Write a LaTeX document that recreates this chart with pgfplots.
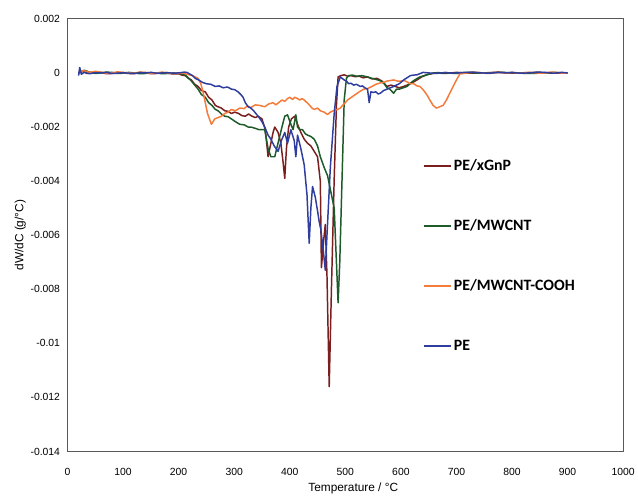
\documentclass[border=0pt]{standalone}
\usepackage{pgfplots}
\pgfplotsset{compat=1.18}
\usepackage{fontspec}
\setmainfont{Liberation Sans}
\newfontfamily\legfont{Carlito}
\definecolor{cRed}{HTML}{7A1E1E}
\definecolor{cGreen}{HTML}{1D5B2A}
\definecolor{cOrange}{HTML}{F57B3A}
\definecolor{cBlue}{HTML}{2F3E9E}
\definecolor{frame}{HTML}{595959}
\begin{document}
\begin{tikzpicture}
\begin{axis}[
  name=ax,
  scale only axis, width=560bp, height=436bp,
  xmin=0, xmax=1000, ymin=-0.014, ymax=0.002,
  axis line style={frame, line width=1.1pt},
  major tick length=0pt,
  xtick={0,100,...,1000},
  xticklabels={0,100,200,300,400,500,600,700,800,900,1000},
  ytick={-0.014,-0.012,-0.01,-0.008,-0.006,-0.004,-0.002,0,0.002},
  yticklabels={-0.014,-0.012,-0.01,-0.008,-0.006,-0.004,-0.002,0,0.002},
  ticklabel style={font=\fontsize{10.5}{12}\selectfont},
  xticklabel style={yshift=-13bp},
  yticklabel style={xshift=-4bp},
  scaled y ticks=false,
  xlabel={Temperature / °C},
  ylabel={dW/dC (g/°C)},
  label style={font=\fontsize{12}{14}\selectfont},
  xlabel style={yshift=-1bp, xshift=8bp},
  ylabel style={yshift=-2bp},
  legend style={at={(0.64,0.68)}, anchor=north west, draw=none, fill=none,
    font=\legfont\bfseries\fontsize{16}{19}\selectfont, row sep=44bp,
    inner sep=0pt, cells={anchor=west}},
  legend image code/.code={\draw[#1, line width=1.8pt] (0bp,0bp) -- (27bp,0bp);},
  every axis plot/.append style={line width=1.5pt, line join=round},
]
\addplot[cRed] coordinates {
(20,0.0) (25,0.00004) (30,0.00005) (35,-0.00002) (40,0.0) (50,0.00003) (60,0.00002) (70,-0.00003) (80,-0.00002) (90,0.00002) (100,0.0) (110,-0.00002) (120,-0.00003)
(130,0.00002) (140,0.00001) (150,-0.00003) (160,-0.00002) (170,0.00001) (180,-0.00001) (190,-0.00004) (200,-0.00003) (206,-0.00008) (212,-0.0001) (218,-0.0002) (223,-0.00026)
(229,-0.00042) (235,-0.0005) (241,-0.00065) (248,-0.0007) (254,-0.0009) (260,-0.001) (266,-0.0012) (271,-0.00125) (277,-0.0013) (283,-0.0014) (289,-0.00142) (295,-0.0015)
(301,-0.00145) (308,-0.0015) (314,-0.00158) (320,-0.0016) (326,-0.00152) (332,-0.0016) (338,-0.00165) (343,-0.0016) (350,-0.0017) (356,-0.0021)
(361,-0.0031) (366,-0.0026) (370,-0.0022) (373,-0.002) (379,-0.0022) (384,-0.0026) (388,-0.0033)
(391,-0.0039) (394,-0.0028) (398,-0.002) (403,-0.0017) (409,-0.0016) (414,-0.0019)
(420,-0.0022) (426,-0.00245) (432,-0.0026) (438,-0.0027) (444,-0.0029) (450,-0.0031)
(455,-0.004) (457,-0.0072) (461,-0.0062) (464,-0.0056) (467,-0.0075) (471,-0.0116)
(475,-0.008) (480,-0.0039) (484,-0.0012) (487,-0.00015) (492,-0.0001) (498,-0.00007)
(504,-0.00012) (510,-0.0001) (518,-0.00014) (525,-0.00012) (532,-0.00018) (540,-0.00015) (548,-0.00022) (557,-0.0002) (566,-0.0003) (575,-0.0005)
(582,-0.00045) (590,-0.0005) (597,-0.00055) (605,-0.0005) (611,-0.00045) (617,-0.0004) (623,-0.00033) (629,-0.00026) (637,-0.00015) (646,-0.00007) (660,0.0)
(680,-0.00002) (700,0.00002) (725,-0.00001) (750,0.0) (775,0.00003) (800,-0.00001) (825,0.00001) (850,0.00002) (875,-0.00001) (900,0.0)
};
\addlegendentry{PE/xGnP}
\addplot[cGreen] coordinates {
(20,0.0) (30,0.0001) (40,0.00003) (50,-0.00002) (60,0.0) (70,0.00003) (80,0.00002) (90,-0.00002) (100,-0.00001) (110,0.00002) (120,0.0)
(130,-0.00003) (140,-0.00002) (150,0.00001) (160,0.0) (170,-0.00003) (180,-0.00002) (190,0.0) (200,-0.00001) (212,-0.00008) (223,-0.0003)
(229,-0.00045) (235,-0.0006) (241,-0.0008) (248,-0.0009) (254,-0.0011) (260,-0.0012) (266,-0.00135) (271,-0.0014) (277,-0.00152) (283,-0.0016) (289,-0.00162) (295,-0.0017)
(302,-0.0018) (310,-0.0019) (318,-0.00192) (325,-0.002) (330,-0.002) (338,-0.00205) (345,-0.0021) (355,-0.0021) (361,-0.0028) (366,-0.0031)
(373,-0.0031) (380,-0.0025) (386,-0.002) (391,-0.0016) (396,-0.00155) (402,-0.0019)
(406,-0.0021) (411,-0.00155) (414,-0.002) (418,-0.0021) (423,-0.0021) (428,-0.00225) (432,-0.0023) (438,-0.00235) (444,-0.00245)
(450,-0.0027) (455,-0.0031) (462,-0.0035) (468,-0.0038) (474,-0.0044) (480,-0.005)
(484,-0.007) (487,-0.0085) (490,-0.007) (494,-0.004) (498,-0.001) (502,-0.0002)
(506,-0.0001) (513,-0.00008) (520,-0.00012) (530,-0.0001) (540,-0.00015) (548,-0.0002) (557,-0.00025) (564,-0.0003) (570,-0.0004) (575,-0.00055) (580,-0.0006)
(587,-0.00075) (592,-0.0006) (597,-0.0006) (604,-0.00055) (611,-0.0005) (616,-0.0004) (622,-0.0003) (628,-0.00022) (634,-0.00015) (650,-0.00005)
(665,0.00001) (680,0.0) (700,-0.00002) (720,0.00002) (740,-0.00001) (760,0.0) (780,0.00002) (800,0.00001) (825,-0.00002) (850,-0.00001) (875,0.00002) (900,0.0)
};
\addlegendentry{PE/MWCNT}
\addplot[cOrange] coordinates {
(20,0.00005) (30,0.00008) (40,0.00002) (50,0.00006) (60,0.00003) (70,-0.00001) (80,0.0) (90,0.00004) (100,0.00002) (110,0.0) (120,-0.00001)
(130,0.00003) (140,0.00002) (150,-0.00001) (160,0.0) (170,0.00003) (180,0.00001) (190,-0.00002) (200,-0.00002) (208,0.0) (215,-0.00005) (225,-0.0001)
(235,-0.0002) (240,-0.0004) (245,-0.0008) (252,-0.0015) (259,-0.0019) (265,-0.0017) (271,-0.00165)
(277,-0.0016) (283,-0.0015) (289,-0.00145) (295,-0.00135) (302,-0.0014) (310,-0.0013) (318,-0.00132) (324,-0.00122) (330,-0.00128) (338,-0.00118) (345,-0.0012) (355,-0.00125)
(362,-0.00115) (370,-0.0011) (375,-0.00118) (380,-0.0011) (386,-0.001) (391,-0.00105) (396,-0.00095) (400,-0.0009) (405,-0.00098) (409,-0.0009) (414,-0.00095) (418,-0.001)
(422,-0.00095) (426,-0.001) (431,-0.0011) (436,-0.0012) (440,-0.0013) (444,-0.00135) (450,-0.0013) (455,-0.0014) (462,-0.00145) (468,-0.00154) (473,-0.00145) (478,-0.0014)
(486,-0.00135) (491,-0.0013) (495,-0.0012) (500,-0.0011) (504,-0.001) (511,-0.0009) (518,-0.0008) (525,-0.0007) (533,-0.0006) (540,-0.00058) (548,-0.0005) (555,-0.00042)
(563,-0.00037) (569,-0.00035) (575,-0.0003) (581,-0.00028) (587,-0.00026) (594,-0.0003) (600,-0.0003) (606,-0.00028) (611,-0.00033) (617,-0.0004) (623,-0.0004) (629,-0.00048)
(634,-0.0005) (639,-0.0006) (643,-0.0007) (648,-0.00085) (652,-0.001) (658,-0.0012) (664,-0.0013) (670,-0.00125)
(676,-0.0012) (682,-0.001) (688,-0.00075) (694,-0.0005) (700,-0.00026) (706,-0.00004)
(720,0.0) (730,0.00003) (740,0.00002) (750,-0.00001) (760,-0.00002) (770,0.00002) (780,0.00001) (790,-0.00001) (800,0.00002) (810,0.0) (820,-0.00001) (830,0.00002)
(840,0.00001) (850,-0.00001) (860,0.0) (870,0.00003) (880,0.00002) (890,-0.00001) (900,0.0)
};
\addlegendentry{PE/MWCNT-COOH}
\addplot[cBlue] coordinates {
(20,-0.0001) (22,0.0002) (25,-0.00005) (30,0.00002) (40,-0.00003) (50,0.00001) (60,0.0) (70,0.00002) (80,-0.00002) (90,-0.00001)
(100,0.00001) (110,-0.00001) (120,-0.00002) (130,0.00001) (140,0.0) (150,0.00002) (160,-0.00001) (170,0.0) (180,0.00001) (190,-0.00001) (200,0.0) (210,0.00003) (215,0.00002)
(220,-0.00004) (225,-0.0001) (230,-0.0002) (236,-0.00026) (243,-0.00035) (250,-0.0004) (258,-0.00042) (266,-0.0005) (273,-0.00048) (280,-0.00055) (288,-0.00052) (295,-0.0006)
(301,-0.00062) (307,-0.0007) (312,-0.0008) (316,-0.0009) (320,-0.0011) (325,-0.00125) (330,-0.0013) (335,-0.0014) (339,-0.0015) (343,-0.0016) (350,-0.0018)
(355,-0.002) (361,-0.0023) (366,-0.00245) (372,-0.0027) (379,-0.0029) (385,-0.0025)
(391,-0.0022) (396,-0.0026) (402,-0.0021) (408,-0.0025) (411,-0.0031) (414,-0.0023)
(420,-0.0028) (426,-0.0034) (431,-0.0045) (435,-0.0063) (438,-0.005) (441,-0.0042)
(446,-0.0046) (450,-0.0051) (453,-0.0055) (456,-0.0058) (460,-0.0065) (464,-0.0073)
(467,-0.006) (473,-0.0035) (480,-0.0015) (485,-0.0005) (491,-0.00015) (498,-0.00026)
(502,-0.0003) (506,-0.0004) (510,-0.00038) (515,-0.00045) (520,-0.00042) (527,-0.0005) (531,-0.00048) (535,-0.00055) (540,-0.0006) (543,-0.0011)
(546,-0.0007) (550,-0.00072) (555,-0.0007) (559,-0.00078) (563,-0.00075) (569,-0.00065) (575,-0.0006) (581,-0.00055) (587,-0.0005) (592,-0.00045) (597,-0.0004)
(605,-0.00026) (611,-0.00018) (617,-0.0001) (623,-0.00008) (629,-0.00007) (640,0.00002) (650,0.0) (665,-0.00002) (680,0.00002) (690,-0.00001) (700,0.0)
(715,0.00002) (730,0.00003) (745,0.0) (760,-0.00001) (775,0.00002) (790,0.0) (800,0.00002) (815,-0.00001) (830,0.0) (845,0.00003) (860,0.00002) (875,-0.00001) (890,0.00002) (900,0.0)
};
\addlegendentry{PE}
\end{axis}
\path ([shift={(-68bp,-39bp)}]ax.south west) rectangle ([shift={(10bp,19bp)}]ax.north east);
\end{tikzpicture}
\end{document}
